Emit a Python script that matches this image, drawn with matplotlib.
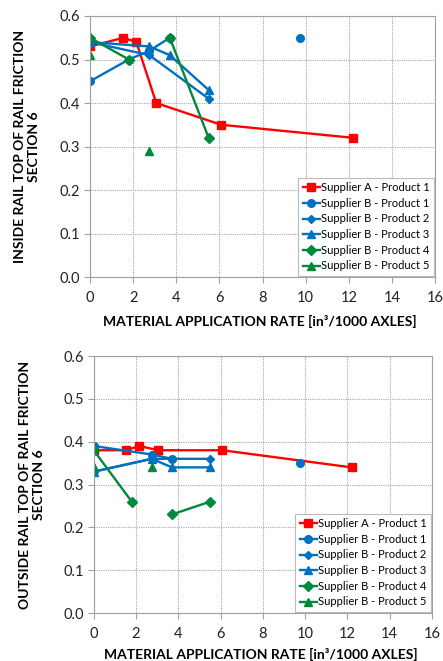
import numpy as np
import matplotlib
matplotlib.use('Agg')
import matplotlib.pyplot as plt

plt.rcParams['font.family'] = ['Lato', 'DejaVu Sans']

nan = np.nan
RED = '#FF0000'
BLUE = '#0070C0'
GREEN = '#00893D'

labels = ['Supplier A - Product 1', 'Supplier B - Product 1', 'Supplier B - Product 2',
          'Supplier B - Product 3', 'Supplier B - Product 4', 'Supplier B - Product 5']

# inside rail
in_a1_x = [0, 1.55, 2.15, 3.07, 6.08, 12.2]
in_a1_y = [0.53, 0.55, 0.54, 0.40, 0.35, 0.32]
in_b1_x = [0, 1.8, 2.75, 3.7, 9.75, 9.75]
in_b1_y = [0.45, 0.50, 0.52, 0.55, nan, 0.55]
in_b2_x = [0, 2.75, 5.5]
in_b2_y = [0.54, 0.51, 0.41]
in_b3_x = [0, 2.75, 3.7, 5.5]
in_b3_y = [0.54, 0.53, 0.51, 0.43]
in_b4_x = [0, 1.8, 2.75, 3.7, 5.5]
in_b4_y = [0.55, 0.50, nan, 0.55, 0.32]
in_b5_x = [0, 1.8, 2.75]
in_b5_y = [0.51, nan, 0.29]

# outside rail
out_a1_x = [0, 1.55, 2.15, 3.05, 6.08, 12.2]
out_a1_y = [0.38, 0.38, 0.39, 0.38, 0.38, 0.34]
out_b1_x = [0, 2.75, 3.7, 9.75, 9.75]
out_b1_y = [0.39, 0.37, 0.36, nan, 0.35]
out_b2_x = [0, 2.75, 5.5]
out_b2_y = [0.33, 0.36, 0.36]
out_b3_x = [0, 2.75, 3.7, 5.5]
out_b3_y = [0.33, 0.36, 0.34, 0.34]
out_b4_x = [0, 1.8, 2.75, 3.7, 5.5]
out_b4_y = [0.38, 0.26, nan, 0.23, 0.26]
out_b5_x = [0, 1.8, 2.75]
out_b5_y = [0.34, nan, 0.34]

styles = [dict(color=RED, marker='s', ms=5.5),
          dict(color=BLUE, marker='o', ms=5.5),
          dict(color=BLUE, marker='D', ms=4),
          dict(color=BLUE, marker='^', ms=6),
          dict(color=GREEN, marker='D', ms=5),
          dict(color=GREEN, marker='^', ms=6)]


def draw(ax, series, ylab, ylab_x, xlab_y):
    for (x, y), st, lab in zip(series, styles, labels):
        ax.plot(x, y, lw=1.7, label=lab, **st)
    ax.set_xlim(0, 16)
    ax.set_ylim(0, 0.6)
    ax.set_xticks(np.arange(0, 17, 2))
    ax.set_yticks(np.arange(0, 0.61, 0.1))
    ax.set_yticklabels(['%.1f' % v for v in np.arange(0, 0.61, 0.1)])
    ax.grid(True, color='#A8A8A8', ls=(0, (1, 1)), lw=0.8)
    ax.set_axisbelow(True)
    for sp in ax.spines.values():
        sp.set_color('#A0A0A0')
    ax.tick_params(direction='out', length=4, color='#A0A0A0', labelsize=10.5,
                   labelcolor='#222222', pad=3)
    ax.tick_params(axis='x', pad=6)
    ax.text(ylab_x, 0.5, ylab, transform=ax.transAxes, rotation=90, ha='center',
            va='center', multialignment='center', fontsize=10, fontweight='bold')
    ax.text(0.493, xlab_y, 'MATERIAL APPLICATION RATE [in³/1000 AXLES]', transform=ax.transAxes,
            ha='center', va='center', fontsize=10, fontweight='bold')
    leg = ax.legend(loc='lower right', fontsize=8, handlelength=1.5, handletextpad=0.1,
                    labelspacing=0.42, borderpad=0.4, fancybox=False, framealpha=1,
                    borderaxespad=0.1)
    leg.get_frame().set_edgecolor('#BBBBBB')
    leg.get_frame().set_linewidth(0.8)


fig = plt.figure(figsize=(4.43, 6.61), dpi=100)
ax1 = fig.add_axes([0.2032, 0.5809, 0.7788, 0.3949])
ax2 = fig.add_axes([0.2115, 0.0726, 0.7637, 0.3888])

draw(ax1, [(in_a1_x, in_a1_y), (in_b1_x, in_b1_y), (in_b2_x, in_b2_y),
           (in_b3_x, in_b3_y), (in_b4_x, in_b4_y), (in_b5_x, in_b5_y)],
     'INSIDE RAIL TOP OF RAIL FRICTION\nSECTION 6', -0.183, -0.172)
draw(ax2, [(out_a1_x, out_a1_y), (out_b1_x, out_b1_y), (out_b2_x, out_b2_y),
           (out_b3_x, out_b3_y), (out_b4_x, out_b4_y), (out_b5_x, out_b5_y)],
     'OUTSIDE RAIL TOP OF RAIL FRICTION\nSECTION 6', -0.182, -0.163)

fig.savefig('out.png', dpi=100)
